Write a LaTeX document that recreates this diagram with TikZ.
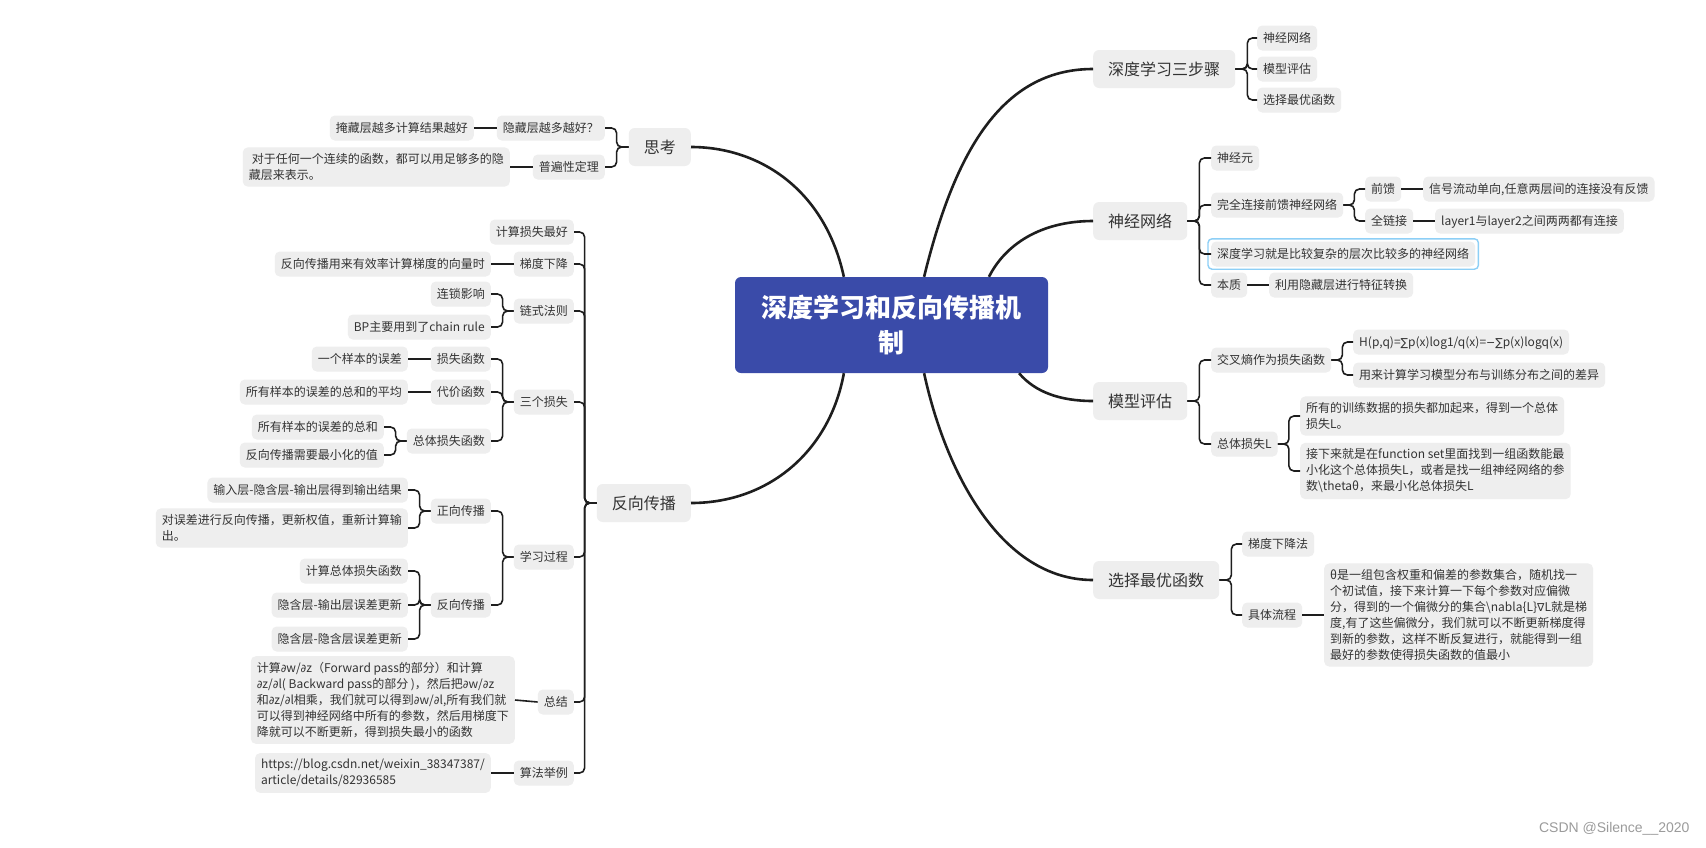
\documentclass[tikz,border=0pt]{standalone}
\usepackage{fontspec}
\setmainfont{Noto Sans CJK SC}
\newfontfamily\wmfont{Liberation Sans}
\newfontfamily\symf{DejaVu Sans}
\newcommand\mypd{{\symf\fontsize{11}{16}\selectfont ∂}}
\newcommand\mysum{{\symf\fontsize{11}{16}\selectfont ∑}}
\newcommand\mynab{{\symf\fontsize{11}{16}\selectfont ∇}}
\newcommand\mymin{{\symf\fontsize{11}{16}\selectfont −}}
\usetikzlibrary{calc}
\definecolor{gbox}{HTML}{EEEEEE}
\definecolor{tcol}{HTML}{333333}
\definecolor{lcol}{HTML}{1E1E1E}
\definecolor{rootblue}{HTML}{3A4BA9}
\definecolor{selblue}{HTML}{8DCFF6}
\definecolor{wmcol}{HTML}{9B9B9B}
\tikzset{
  subbox/.style={fill=gbox, rounded corners=5pt, text=tcol, font=\fontsize{12}{16}\selectfont,
    inner xsep=6pt, inner ysep=0pt, minimum height=25pt, text height=10.5pt, text depth=1.5pt},
  multibox/.style={fill=gbox, rounded corners=5pt, text=tcol, font=\fontsize{12}{16}\selectfont,
    inner xsep=6pt, inner ysep=6pt, align=left},
  lvlone/.style={fill=gbox, rounded corners=6pt, text=tcol, font=\fontsize{16}{20}\selectfont,
    inner xsep=15pt, inner ysep=0pt, minimum height=38pt, text height=14pt, text depth=2pt},
  rootbox/.style={fill=rootblue, text=white, rounded corners=6pt, minimum width=313pt,
    minimum height=96pt, align=center, inner sep=0pt, font=\fontsize{26}{34.5}\selectfont\bfseries},
  brk/.style={draw=lcol, line width=1.6pt, rounded corners=5pt},
  trunk/.style={draw=lcol, line width=2.6pt},
  selframe/.style={draw=selblue, line width=1.4pt, rounded corners=4pt},
}
\begin{document}
\begin{tikzpicture}[x=1pt, y=-1pt]
\path[fill=white] (0,0) rectangle (1706,847);
\useasboundingbox (0,0) rectangle (1706,847);

% root
\node[rootbox] (root) at (891.5,325) {深度学习和反向传播机\\制};

% level one
\node[lvlone, anchor=west] (R1) at (1093,69) {深度学习三步骤};
\node[lvlone, anchor=west] (R2) at (1093,221) {神经网络};
\node[lvlone, anchor=west] (R3) at (1093,401) {模型评估};
\node[lvlone, anchor=west] (R4) at (1093,580) {选择最优函数};
\node[lvlone, anchor=east] (t1) at (691,147) {思考};
\node[lvlone, anchor=east] (t2) at (691,503) {反向传播};

% R1 children
\node[subbox, anchor=west] (a1) at (1257,38) {神经网络};
\node[subbox, anchor=west] (a2) at (1257,69) {模型评估};
\node[subbox, anchor=west] (a3) at (1257,100) {选择最优函数};

% R2 children
\node[subbox, anchor=west] (b1) at (1211,158) {神经元};
\node[subbox, anchor=west] (b2) at (1211,205) {完全连接前馈神经网络};
\node[subbox, anchor=west] (b3) at (1211,254) {深度学习就是比较复杂的层次比较多的神经网络};
\node[subbox, anchor=west] (b4) at (1211,285) {本质};
\node[subbox, anchor=west] (b4c) at (1269,285) {利用隐藏层进行特征转换};
\node[subbox, anchor=west] (c1) at (1365,189) {前馈};
\node[subbox, anchor=west] (c1c) at (1423,189) {信号流动单向,任意两层间的连接没有反馈};
\node[subbox, anchor=west] (c2) at (1365,221) {全链接};
\node[subbox, anchor=west] (c2c) at (1435,221) {layer1与layer2之间两两都有连接};
\draw[selframe] ([xshift=-3pt,yshift=2.5pt]b3.north west) rectangle ([xshift=3pt,yshift=-2.5pt]b3.south east);

% R3 children
\node[subbox, anchor=west] (d1) at (1211,360) {交叉熵作为损失函数};
\node[subbox, anchor=west] (e1) at (1353,342) {H(p,q)=\mysum p(x)log1/q(x)=\mymin\mysum p(x)logq(x)};
\node[subbox, anchor=west] (e2) at (1353,375) {用来计算学习模型分布与训练分布之间的差异};
\node[subbox, anchor=west] (d2) at (1211,444) {总体损失L};
\node[multibox, anchor=west] (f1) at (1300,416) {所有的训练数据的损失都加起来，得到一个总体\\损失L。};
\node[multibox, anchor=west] (f2) at (1300,471) {接下来就是在function set里面找到一组函数能最\\小化这个总体损失L，或者是找一组神经网络的参\\数\textbackslash thetaθ，来最小化总体损失L};

% R4 children
\node[subbox, anchor=west] (g1) at (1242,544) {梯度下降法};
\node[subbox, anchor=west] (g2) at (1242,615) {具体流程};
\node[multibox, anchor=west] (g2c) at (1324,615) {θ是一组包含权重和偏差的参数集合，随机找一\\个初试值，接下来计算一下每个参数对应偏微\\分，得到的一个偏微分的集合\textbackslash nabla\{L\}\mynab L就是梯\\度,有了这些偏微分，我们就可以不断更新梯度得\\到新的参数，这样不断反复进行，就能得到一组\\最好的参数使得损失函数的值最小};

% t1 children
\node[subbox, anchor=east] (s1) at (605,128) {隐藏层越多越好？};
\node[subbox, anchor=east] (s1c) at (474,128) {掩藏层越多计算结果越好};
\node[subbox, anchor=east] (s2) at (605,167) {普遍性定理};
\node[multibox, anchor=east] (s2c) at (510,167) {\hspace*{3pt}对于任何一个连续的函数，都可以用足够多的隐\\藏层来表示。};

% t2 children
\node[subbox, anchor=east] (p1) at (574,232) {计算损失最好};
\node[subbox, anchor=east] (p2) at (574,264) {梯度下降};
\node[subbox, anchor=east] (p2c) at (491,264) {反向传播用来有效率计算梯度的向量时};
\node[subbox, anchor=east] (p3) at (574,311) {链式法则};
\node[subbox, anchor=east] (p3a) at (491,294) {连锁影响};
\node[subbox, anchor=east] (p3b) at (491,327) {BP主要用到了chain rule};
\node[subbox, anchor=east] (p4) at (574,402) {三个损失};
\node[subbox, anchor=east] (p4a) at (491,359) {损失函数};
\node[subbox, anchor=east] (p4ac) at (408,359) {一个样本的误差};
\node[subbox, anchor=east] (p4b) at (491,392) {代价函数};
\node[subbox, anchor=east] (p4bc) at (408,392) {所有样本的误差的总和的平均};
\node[subbox, anchor=east] (p4c) at (491,441) {总体损失函数};
\node[subbox, anchor=east] (p4c1) at (384,427) {所有样本的误差的总和};
\node[subbox, anchor=east] (p4c2) at (384,455) {反向传播需要最小化的值};
\node[subbox, anchor=east] (p5) at (574,557) {学习过程};
\node[subbox, anchor=east] (p5a) at (491,511) {正向传播};
\node[subbox, anchor=east] (p5a1) at (408,490) {输入层-隐含层-输出层得到输出结果};
\node[multibox, anchor=east] (p5a2) at (408,528) {对误差进行反向传播，更新权值，重新计算输\\出。};
\node[subbox, anchor=east] (p5b) at (491,605) {反向传播};
\node[subbox, anchor=east] (p5b1) at (408,571) {计算总体损失函数};
\node[subbox, anchor=east] (p5b2) at (408,605) {隐含层-输出层误差更新};
\node[subbox, anchor=east] (p5b3) at (408,639) {隐含层-隐含层误差更新};
\node[subbox, anchor=east] (p6) at (574,702) {总结};
\node[multibox, anchor=east] (p6c) at (515,700) {计算\mypd w/\mypd z（Forward pass的部分）和计算\\\mypd z/\mypd l( Backward pass的部分 )，然后把\mypd w/\mypd z\\和\mypd z/\mypd l相乘，我们就可以得到\mypd w/\mypd l,所有我们就\\可以得到神经网络中所有的参数，然后用梯度下\\降就可以不断更新，得到损失最小的函数};
\node[subbox, anchor=east] (p7) at (574,773) {算法举例};
\node[multibox, anchor=east] (p7c) at (491,773) {https://blog.csdn.net/weixin\_38347387/\\article/details/82936585};

% watermark
\node[font=\wmfont\fontsize{14}{14}\selectfont, text=wmcol, anchor=east] (wm) at (1693,829) {CSDN @Silence\_\_2020};

% trunk connectors
\draw[trunk] ($(root.north west)!0.348!(root.north east)$) .. controls (825,190) and (760,147) .. (t1.east);
\draw[trunk] ($(root.north west)!0.604!(root.north east)$) .. controls (954,155) and (1000,69) .. (R1.west);
\draw[trunk] ($(root.north west)!0.811!(root.north east)$) .. controls (1005,245) and (1040,221) .. (R2.west);
\draw[trunk] ($(root.south west)!0.907!(root.south east)$) .. controls (1035,392) and (1060,401) .. (R3.west);
\draw[trunk] ($(root.south west)!0.604!(root.south east)$) .. controls (945,470) and (1000,580) .. (R4.west);
\draw[trunk] ($(root.south west)!0.348!(root.south east)$) .. controls (830,450) and (770,503) .. (t2.east);

% right brackets
\foreach \ch in {a1,a2,a3} \draw[brk] (R1.east) -- ++(12,0) |- (\ch.west);
\foreach \ch in {b1,b2,b3,b4} \draw[brk] (R2.east) -- ++(12,0) |- (\ch.west);
\draw[brk] (b4.east) -- (b4c.west);
\foreach \ch in {c1,c2} \draw[brk] (b2.east) -- ++(11,0) |- (\ch.west);
\draw[brk] (c1.east) -- (c1c.west);
\draw[brk] (c2.east) -- (c2c.west);
\foreach \ch in {d1,d2} \draw[brk] (R3.east) -- ++(12,0) |- (\ch.west);
\foreach \ch in {e1,e2} \draw[brk] (d1.east) -- ++(11,0) |- (\ch.west);
\foreach \ch in {f1,f2} \draw[brk] (d2.east) -- ++(11,0) |- (\ch.west);
\foreach \ch in {g1,g2} \draw[brk] (R4.east) -- ++(12,0) |- (\ch.west);
\draw[brk] (g2.east) -- (g2c.west);

% left brackets
\foreach \ch in {s1,s2} \draw[brk] (t1.west) -- ++(-12,0) |- (\ch.east);
\draw[brk] (s1.west) -- (s1c.east);
\draw[brk] (s2.west) -- (s2c.east);
\foreach \ch in {p1,p2,p3,p4,p5,p6,p7} \draw[brk] (t2.west) -- ++(-12,0) |- (\ch.east);
\draw[brk] (p2.west) -- (p2c.east);
\foreach \ch in {p3a,p3b} \draw[brk] (p3.west) -- ++(-11,0) |- (\ch.east);
\foreach \ch in {p4a,p4b,p4c} \draw[brk] (p4.west) -- ++(-11,0) |- (\ch.east);
\draw[brk] (p4a.west) -- (p4ac.east);
\draw[brk] (p4b.west) -- (p4bc.east);
\foreach \ch in {p4c1,p4c2} \draw[brk] (p4c.west) -- ++(-11,0) |- (\ch.east);
\foreach \ch in {p5a,p5b} \draw[brk] (p5.west) -- ++(-11,0) |- (\ch.east);
\foreach \ch in {p5a1,p5a2} \draw[brk] (p5a.west) -- ++(-11,0) |- (\ch.east);
\foreach \ch in {p5b1,p5b2,p5b3} \draw[brk] (p5b.west) -- ++(-11,0) |- (\ch.east);
\draw[brk] (p6.west) -- (p6c.east);
\draw[brk] (p7.west) -- (p7c.east);
\end{tikzpicture}
\end{document}
